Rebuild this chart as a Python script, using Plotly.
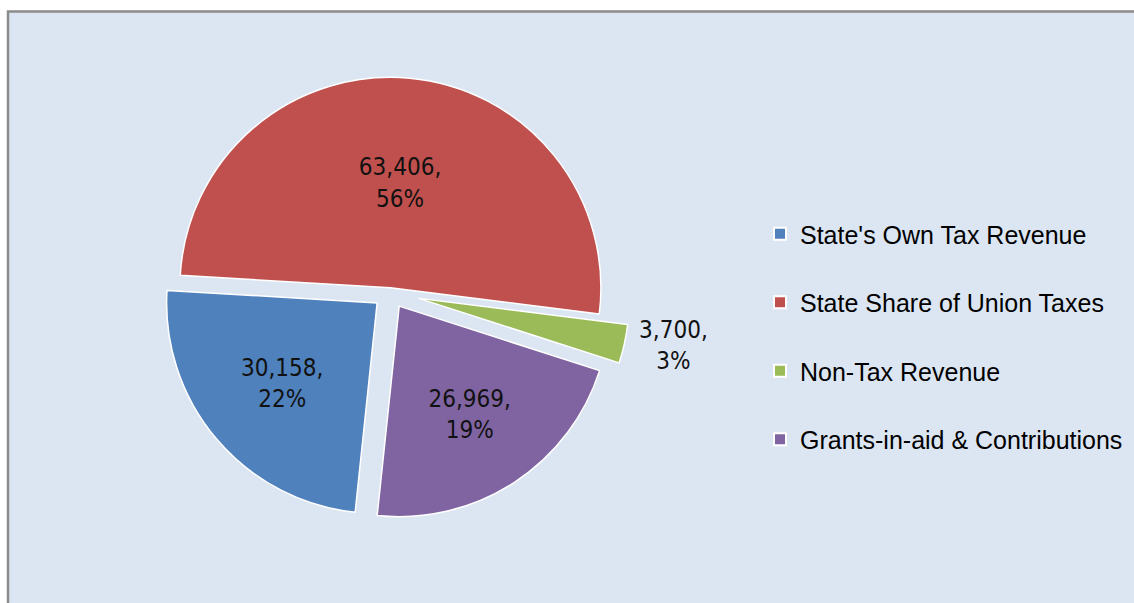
import plotly.graph_objects as go

categories = ["State's Own Tax Revenue", "State Share of Union Taxes",
              "Non-Tax Revenue", "Grants-in-aid & Contributions"]
values = [30158, 63406, 3700, 26969]
pct_labels = ["22%", "56%", "3%", "19%"]
colors = ["#4F81BD", "#C0504D", "#9BBB59", "#8064A2"]

texts = [f"{v:,},<br>{p}" for v, p in zip(values, pct_labels)]

W, H = 1134, 603
fig = go.Figure()

fig.add_trace(go.Pie(
    labels=categories,
    values=values,
    text=texts,
    textinfo="text",
    textposition=["inside", "inside", "outside", "inside"],
    insidetextorientation="horizontal",
    sort=False,
    direction="clockwise",
    rotation=186,
    pull=[0.08, 0.02, 0.14, 0.08],
    marker=dict(colors=colors, line=dict(color="white", width=1.5)),
    textfont=dict(family="DejaVu Sans Condensed, Liberation Sans Narrow, Arial Narrow, Liberation Sans",
                  size=24, color="#111111"),
    showlegend=False,
    hoverinfo="label+value",
    domain=dict(x=[(390 - 240) / W, (390 + 240) / W],
                y=[1 - (292 + 240) / H, 1 - (292 - 240) / H]),
))

# legend entries
for name, col in zip(categories, colors):
    fig.add_trace(go.Scatter(
        x=[None], y=[None], mode="markers", name=name,
        legendgroup=name,
        marker=dict(symbol="square", size=10, color=col,
                    line=dict(color="white", width=1)),
        hoverinfo="skip",
    ))

fig.update_layout(
    width=W, height=H,
    margin=dict(l=0, r=0, t=0, b=0),
    paper_bgcolor="white",
    plot_bgcolor="rgba(0,0,0,0)",
    xaxis=dict(visible=False),
    yaxis=dict(visible=False),
    showlegend=True,
    legend=dict(
        x=760 / W, y=1 - 211 / H, xanchor="left", yanchor="top",
        bgcolor="rgba(0,0,0,0)",
        font=dict(family="Liberation Sans, Arial", size=25, color="#000000"),
        tracegroupgap=33,
        itemsizing="constant",
        itemwidth=30,
    ),
    shapes=[dict(
        type="rect", xref="paper", yref="paper", layer="below",
        x0=8 / W, x1=1.01, y0=-0.01, y1=1 - 11.5 / H,
        fillcolor="#DCE6F2", line=dict(color="#8C8C8C", width=2.5),
    )],
)

fig.write_html("out.html")
